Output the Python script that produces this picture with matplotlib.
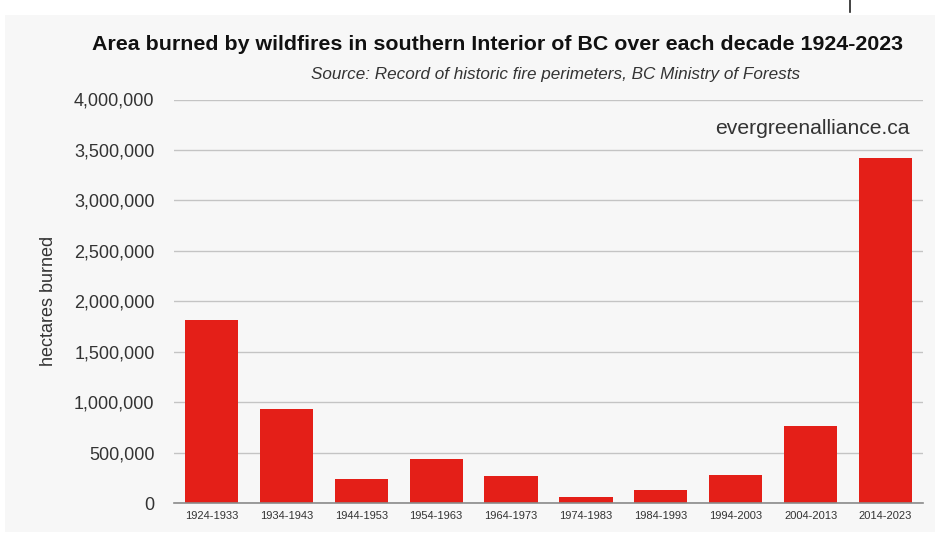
import matplotlib.pyplot as plt
from matplotlib.patches import Rectangle
from matplotlib.ticker import FuncFormatter

plt.rcParams['font.family'] = ['Liberation Sans', 'DejaVu Sans']

decades = ['1924-1933', '1934-1943', '1944-1953', '1954-1963', '1964-1973',
           '1974-1983', '1984-1993', '1994-2003', '2004-2013', '2014-2023']
hectares = [1815000, 932000, 238000, 440000, 272000,
            63000, 126000, 281000, 760000, 3420000]
yticks = [0, 500000, 1000000, 1500000, 2000000, 2500000, 3000000, 3500000, 4000000]

fig = plt.figure(figsize=(9.43, 5.4), dpi=100)
fig.patch.set_facecolor('white')

# light grey card behind the chart
card = Rectangle((5 / 943, 1 - 532 / 540), 930 / 943, 517 / 540,
                 transform=fig.transFigure, facecolor='#f7f7f7', edgecolor='none', zorder=-10)
fig.patches.append(card)
fig.add_artist(plt.Line2D([850 / 943, 850 / 943], [1, 1 - 12 / 540],
                          transform=fig.transFigure, color='#222222', lw=1.2))

ax = fig.add_axes([174 / 943, 1 - 503 / 540, 749 / 943, 403.5 / 540])
ax.set_facecolor('none')

x = range(len(decades))
ax.bar(x, hectares, width=0.71, color='#e41f18', zorder=3)

ax.set_xlim(-0.5, len(decades) - 0.5)
ax.set_ylim(0, 4000000)
ax.set_yticks(yticks)
ax.yaxis.set_major_formatter(FuncFormatter(lambda v, p: '0' if v == 0 else f'{int(v):,}'))
ax.set_xticks(list(x))
ax.set_xticklabels(decades, fontsize=8, color='#333333')
ax.tick_params(axis='y', labelsize=13, colors='#333333', length=0, pad=14)
ax.tick_params(axis='x', length=0, pad=6)

ax.grid(axis='y', color='#c4c4c4', lw=1, zorder=1)
for s in ['top', 'right', 'left']:
    ax.spines[s].set_visible(False)
ax.spines['bottom'].set_color('#8a8a8a')
ax.spines['bottom'].set_linewidth(1.2)
ax.spines['bottom'].set_zorder(4)

ax.set_ylabel('hectares burned', fontsize=13, color='#333333', labelpad=12)

fig.text(498 / 943, 1 - 45 / 540,
         'Area burned by wildfires in southern Interior of BC over each decade 1924-2023',
         ha='center', va='center', fontsize=15.4, fontweight='bold', color='#111111')
fig.text(556 / 943, 1 - 75 / 540,
         'Source: Record of historic fire perimeters, BC Ministry of Forests',
         ha='center', va='center', fontsize=12.3, style='italic', color='#333333')
fig.text(910 / 943, 1 - 128 / 540, 'evergreenalliance.ca',
         ha='right', va='center', fontsize=15.2, color='#333333')

fig.savefig('out.png', dpi=100)
